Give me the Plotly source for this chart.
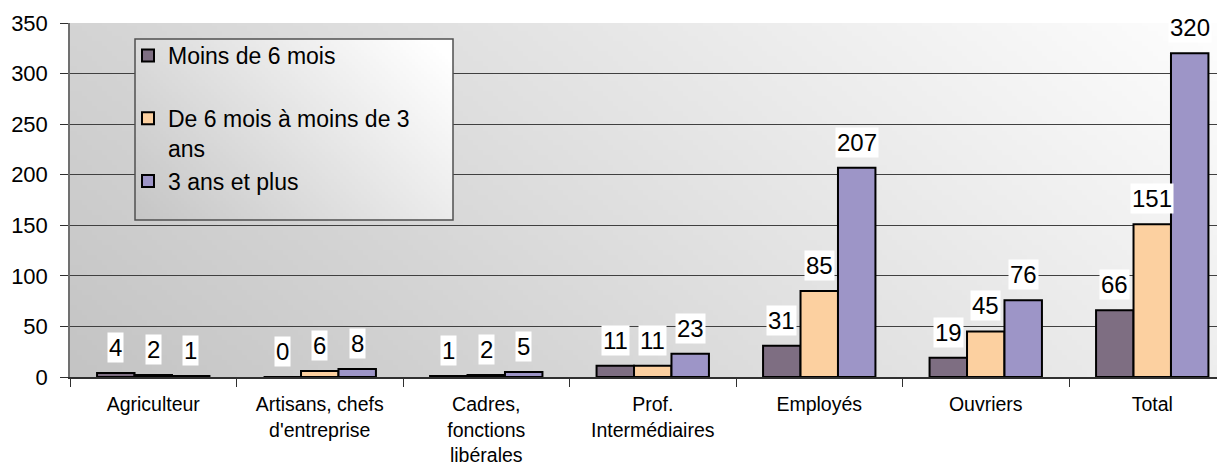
import base64
import struct
import zlib

import numpy as np
import plotly.graph_objects as go

# ---------------- data ----------------
categories = [
    "Agriculteur",
    "Artisans, chefs<br>d'entreprise",
    "Cadres,<br>fonctions<br>libérales",
    "Prof.<br>Intermédiaires",
    "Employés",
    "Ouvriers",
    "Total",
]
series_names = [
    "Moins de 6 mois<br> ",
    "De 6 mois à moins de 3<br>ans",
    "3 ans et plus<br> ",
]
moins_6_mois = [4, 0, 1, 11, 31, 19, 66]
de_6_mois_a_3_ans = [2, 6, 2, 11, 85, 45, 151]
trois_ans_et_plus = [1, 8, 5, 23, 207, 76, 320]
y_ticks = [0, 50, 100, 150, 200, 250, 300, 350]

series_values = [moins_6_mois, de_6_mois_a_3_ans, trois_ans_et_plus]
colors = ["#7e6e82", "#fcd0a0", "#9d95c7"]

# ---------------- layout constants ----------------
OFF = 8  # page body margin of the browser
W, H = 1225 - OFF, 468 - OFF
ML, MT, MB, MR = 70 - OFF, 23 - OFF, 91, 0
PW, PH = W - ML - MR, H - MT - MB
CAT_PX = 166.5
BARGAP = 0.325
FONT = "Liberation Sans, Arial, sans-serif"


def png_uri(arr):
    h, w, _ = arr.shape
    raw = b"".join(b"\x00" + arr[r].tobytes() for r in range(h))

    def chunk(tag, data):
        c = struct.pack(">I", len(data)) + tag + data
        return c + struct.pack(">I", zlib.crc32(tag + data) & 0xFFFFFFFF)

    png = b"\x89PNG\r\n\x1a\n"
    png += chunk(b"IHDR", struct.pack(">IIBBBBB", w, h, 8, 2, 0, 0, 0))
    png += chunk(b"IDAT", zlib.compress(raw, 9))
    png += chunk(b"IEND", b"")
    return "data:image/png;base64," + base64.b64encode(png).decode()


def gradient(w, h, base, ax, by):
    xs = np.linspace(0, 1, w)[None, :]
    ys = np.linspace(0, 1, h)[:, None]
    c = base + ax * xs + by * (1 - ys)
    c = np.clip(c, 0, 255).astype(np.uint8)
    return np.repeat(c[:, :, None], 3, axis=2)


plot_bg = png_uri(gradient(231, 71, 196, 42, 16))
leg_bg = png_uri(gradient(106, 60, 198, 38, 22))

fig = go.Figure()
for name, vals, col in zip(series_names, series_values, colors):
    fig.add_trace(
        go.Bar(
            x=categories,
            y=vals,
            name=name,
            marker=dict(color=col, line=dict(color="black", width=2)),
            legendgroup=name,
        )
    )

# value labels (white boxes above bars)
bar_w = (1 - BARGAP) / len(series_values)
annotations = []
for j, vals in enumerate(series_values):
    for i, v in enumerate(vals):
        annotations.append(
            dict(
                x=i + (j - 1) * bar_w,
                y=v,
                xref="x",
                yref="y",
                text=str(v),
                showarrow=False,
                yanchor="bottom",
                yshift=10,
                bgcolor="white",
                borderpad=1,
                font=dict(family=FONT, size=24, color="black"),
            )
        )


def px_x(p):  # page pixel -> paper fraction
    return (p - OFF - ML) / PW


def px_y(p):
    return (MT + PH - (p - OFF)) / PH


# legend box (paper coords)
lx0, lx1 = px_x(135), px_x(453)
ly0, ly1 = px_y(220), px_y(39)

x_max = PW / CAT_PX - 0.5

fig.update_layout(
    width=W,
    height=H,
    margin=dict(l=ML, r=MR, t=MT, b=MB, pad=0),
    paper_bgcolor="white",
    plot_bgcolor="rgba(0,0,0,0)",
    barmode="group",
    bargap=BARGAP,
    bargroupgap=0,
    font=dict(family=FONT, color="black"),
    annotations=annotations,
    images=[
        dict(
            source=plot_bg, xref="paper", yref="paper", x=0, y=1,
            sizex=1, sizey=1, sizing="stretch", xanchor="left",
            yanchor="top", layer="below",
        ),
        dict(
            source=leg_bg, xref="paper", yref="paper", x=lx0, y=ly1,
            sizex=lx1 - lx0, sizey=ly1 - ly0, sizing="stretch",
            xanchor="left", yanchor="top", layer="above",
        ),
    ],
    shapes=[
        dict(
            type="rect", xref="paper", yref="paper", x0=lx0, x1=lx1,
            y0=ly0, y1=ly1, line=dict(color="#505050", width=1.5),
            fillcolor="rgba(0,0,0,0)", layer="above",
        )
    ],
    legend=dict(
        x=px_x(128),
        y=px_y(34),
        xanchor="left",
        yanchor="top",
        bgcolor="rgba(0,0,0,0)",
        borderwidth=0,
        valign="top",
        traceorder="normal",
        font=dict(family=FONT, size=23, color="black"),
    ),
    xaxis=dict(
        range=[-0.5, x_max],
        showgrid=False,
        showline=True,
        linecolor="#303030",
        linewidth=1.5,
        ticks="outside",
        tickson="boundaries",
        ticklen=8,
        tickcolor="#303030",
        tickfont=dict(family=FONT, size=19.5, color="black"),
        automargin=False,
        ticklabelstandoff=9,
    ),
    yaxis=dict(
        range=[0, 350],
        tickvals=y_ticks,
        showgrid=True,
        gridcolor="#404040",
        gridwidth=1,
        showline=True,
        linecolor="#707070",
        linewidth=1.5,
        ticks="outside",
        ticklen=8,
        tickcolor="#303030",
        tickfont=dict(family=FONT, size=22, color="black"),
        automargin=False,
        ticklabelstandoff=8,
        zeroline=False,
    ),
)

fig.write_html("out.html")
